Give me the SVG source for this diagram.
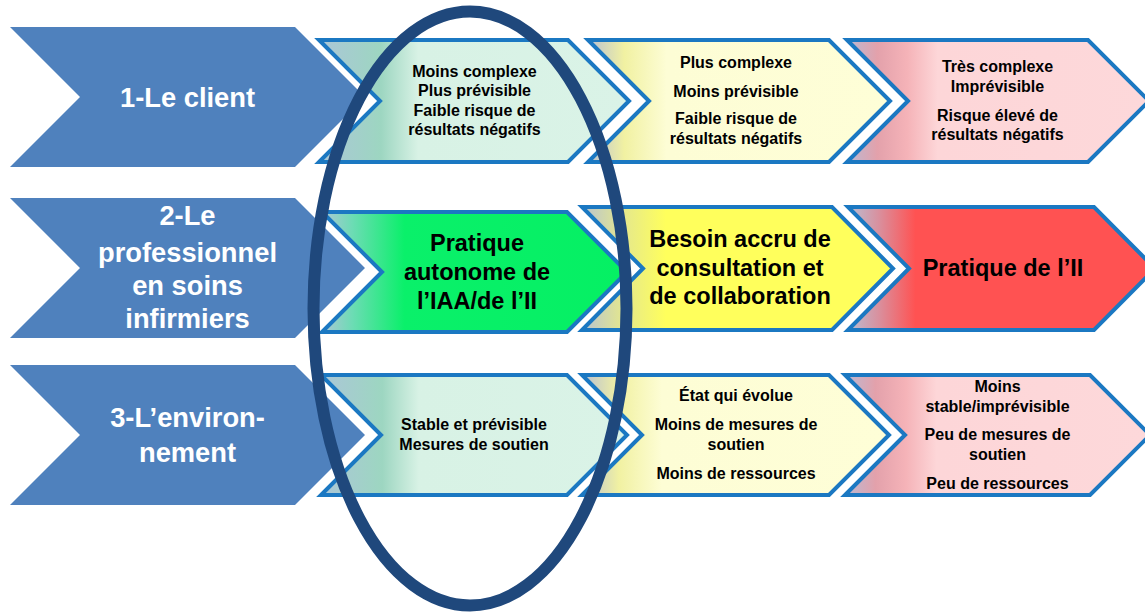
<svg xmlns="http://www.w3.org/2000/svg" width="1145" height="613" viewBox="0 0 1145 613">
<defs>
<linearGradient id="gLight" x1="0" y1="0" x2="1" y2="0">
<stop offset="0" stop-color="#abc6d8"/><stop offset="0.2" stop-color="#9dd6c1"/><stop offset="0.32" stop-color="#d8f2e5"/><stop offset="1" stop-color="#daf3e7"/>
</linearGradient>
<linearGradient id="gVivid" x1="0" y1="0" x2="1" y2="0">
<stop offset="0" stop-color="#aec6d6"/><stop offset="0.1" stop-color="#6cdcb4"/><stop offset="0.27" stop-color="#0af06a"/><stop offset="1" stop-color="#05f063"/>
</linearGradient>
<linearGradient id="yLight" x1="0" y1="0" x2="1" y2="0">
<stop offset="0" stop-color="#b9c0d3"/><stop offset="0.12" stop-color="#f1f1a2"/><stop offset="0.26" stop-color="#fdfdd5"/><stop offset="1" stop-color="#fefed7"/>
</linearGradient>
<linearGradient id="yVivid" x1="0" y1="0" x2="1" y2="0">
<stop offset="0" stop-color="#b8c3d1"/><stop offset="0.14" stop-color="#e6e98a"/><stop offset="0.27" stop-color="#ffff5c"/><stop offset="1" stop-color="#ffff5c"/>
</linearGradient>
<linearGradient id="rLight" x1="0" y1="0" x2="1" y2="0">
<stop offset="0" stop-color="#bab9d3"/><stop offset="0.1" stop-color="#e3a1ab"/><stop offset="0.2" stop-color="#f5b3b8"/><stop offset="0.3" stop-color="#fdd6d8"/><stop offset="1" stop-color="#fdd8da"/>
</linearGradient>
<linearGradient id="rVivid" x1="0" y1="0" x2="1" y2="0">
<stop offset="0" stop-color="#b8bfd4"/><stop offset="0.1" stop-color="#d9909e"/><stop offset="0.22" stop-color="#ff5252"/><stop offset="1" stop-color="#ff5252"/>
</linearGradient>
</defs>
<style>
.lbl{fill:#4f81bd;}
.lt{font-family:"Liberation Sans",Arial,sans-serif;font-weight:bold;font-size:27.3px;fill:#ffffff;text-anchor:middle;}
.halo{fill:none;stroke:#ffffff;stroke-width:12;stroke-linejoin:miter;}
.box{stroke:#1b78c2;stroke-width:4;stroke-linejoin:miter;}
.st{font-family:"Liberation Sans",Arial,sans-serif;font-weight:bold;font-size:16px;fill:#000000;text-anchor:middle;}
.bt{font-family:"Liberation Sans",Arial,sans-serif;font-weight:bold;font-size:23.5px;fill:#000000;text-anchor:middle;}
.ring{fill:none;stroke:#1f487c;stroke-width:12;}
</style>
<rect width="1145" height="613" fill="#ffffff"/>

<g id="client">
<polygon class="lbl" points="10,27 295,27 365,97 295,167 10,167 80,97"/>
<text class="lt" x="187.5" y="106.5">1-Le client</text>
</g>
<g id="professionnel">
<polygon class="lbl" points="10,198 295,198 365,268 295,338 10,338 80,268"/>
<text class="lt" x="187.5" y="225">2-Le</text>
<text class="lt" x="187.5" y="261.5">professionnel</text>
<text class="lt" x="187.5" y="295">en soins</text>
<text class="lt" x="187.5" y="328">infirmiers</text>
</g>
<g id="environnement">
<polygon class="lbl" points="10,365 295,365 365,435 295,505 10,505 80,435"/>
<text class="lt" x="187.5" y="426.5">3-L’environ-</text>
<text class="lt" x="187.5" y="461.5">nement</text>
</g>

<g id="client-faible">
<polygon class="halo" points="319,40 568,40 629,101 568,162 319,162 380,101"/>
<polygon class="box" fill="url(#gLight)" points="319,40 568,40 629,101 568,162 319,162 380,101"/>
<text class="st" x="474.5" y="76.5">Moins complexe</text>
<text class="st" x="474.5" y="96">Plus prévisible</text>
<text class="st" x="474.5" y="115.5">Faible risque de</text>
<text class="st" x="474.5" y="135">résultats négatifs</text>
</g>
<g id="client-moyen">
<polygon class="halo" points="588,40 829,40 890,101 829,162 588,162 649,101"/>
<polygon class="box" fill="url(#yLight)" points="588,40 829,40 890,101 829,162 588,162 649,101"/>
<text class="st" x="736" y="67.5">Plus complexe</text>
<text class="st" x="736" y="96.5">Moins prévisible</text>
<text class="st" x="736" y="124">Faible risque de</text>
<text class="st" x="736" y="143.5">résultats négatifs</text>
</g>
<g id="client-eleve">
<polygon class="halo" points="847,40 1088,40 1149,101 1088,162 847,162 908,101"/>
<polygon class="box" fill="url(#rLight)" points="847,40 1088,40 1149,101 1088,162 847,162 908,101"/>
<text class="st" x="997.5" y="72">Très complexe</text>
<text class="st" x="997.5" y="92">Imprévisible</text>
<text class="st" x="997.5" y="120.5">Risque élevé de</text>
<text class="st" x="997.5" y="140">résultats négatifs</text>
</g>

<g id="pro-autonome">
<polygon class="halo" points="322,212 567,212 627,272 567,332 322,332 382,272"/>
<polygon class="box" fill="url(#gVivid)" points="322,212 567,212 627,272 567,332 322,332 382,272"/>
<text class="bt" x="477" y="251">Pratique</text>
<text class="bt" x="477" y="280">autonome de</text>
<text class="bt" x="477" y="309">l’IAA/de l’II</text>
</g>
<g id="pro-consultation">
<polygon class="halo" points="582,207 832,207 893,268.5 832,330 582,330 643,268.5"/>
<polygon class="box" fill="url(#yVivid)" points="582,207 832,207 893,268.5 832,330 582,330 643,268.5"/>
<text class="bt" x="740" y="247">Besoin accru de</text>
<text class="bt" x="740" y="275.5">consultation et</text>
<text class="bt" x="740" y="304">de collaboration</text>
</g>
<g id="pro-ii">
<polygon class="halo" points="848,207 1094,207 1155,268.5 1094,330 848,330 909,268.5"/>
<polygon class="box" fill="url(#rVivid)" points="848,207 1094,207 1155,268.5 1094,330 848,330 909,268.5"/>
<text class="bt" x="1003" y="276">Pratique de l’II</text>
</g>

<g id="env-stable">
<polygon class="halo" points="321,375 567,375 627,435 567,495 321,495 381,435"/>
<polygon class="box" fill="url(#gLight)" points="321,375 567,375 627,435 567,495 321,495 381,435"/>
<text class="st" x="474" y="430">Stable et prévisible</text>
<text class="st" x="474" y="450">Mesures de soutien</text>
</g>
<g id="env-evolue">
<polygon class="halo" points="582,375 829,375 889,435 829,495 582,495 642,435"/>
<polygon class="box" fill="url(#yLight)" points="582,375 829,375 889,435 829,495 582,495 642,435"/>
<text class="st" x="736" y="401">État qui évolue</text>
<text class="st" x="736" y="430">Moins de mesures de</text>
<text class="st" x="736" y="450">soutien</text>
<text class="st" x="736" y="478.5">Moins de ressources</text>
</g>
<g id="env-instable">
<polygon class="halo" points="845,375 1090,375 1150,435 1090,495 845,495 905,435"/>
<polygon class="box" fill="url(#rLight)" points="845,375 1090,375 1150,435 1090,495 845,495 905,435"/>
<text class="st" x="997.5" y="392">Moins</text>
<text class="st" x="997.5" y="412">stable/imprévisible</text>
<text class="st" x="997.5" y="440">Peu de mesures de</text>
<text class="st" x="997.5" y="460">soutien</text>
<text class="st" x="997.5" y="488.5">Peu de ressources</text>
</g>

<g id="ellipse-focus">
<ellipse class="ring" cx="470" cy="308.5" rx="156.5" ry="297"/>
</g>
</svg>
